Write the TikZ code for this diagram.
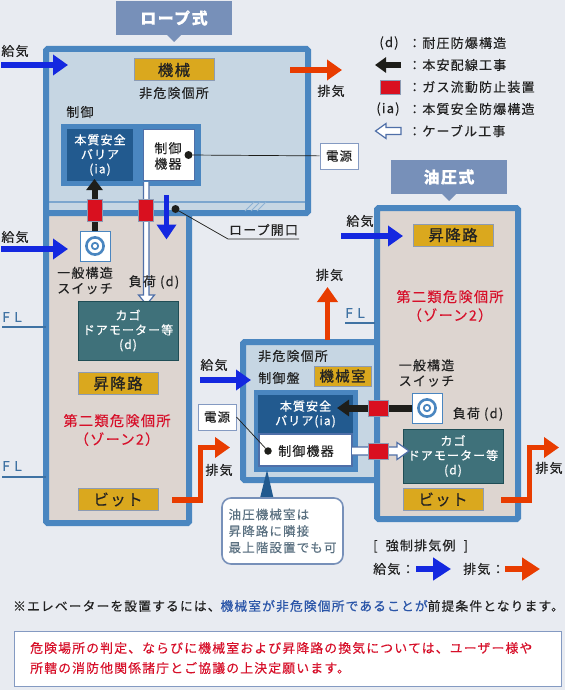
\documentclass[tikz,border=0pt]{standalone}
\usepackage{fontspec}
\setmainfont[LetterSpace=9,FakeBold=0.25]{Noto Sans CJK JP}
\newfontfamily\medfont[LetterSpace=9,FakeBold=0.7]{Noto Sans CJK JP}
\usepackage{xcolor}
\usetikzlibrary{positioning,calc,arrows.meta}

\definecolor{pagebg}{HTML}{E8EBF1}
\definecolor{framecol}{HTML}{4A86C0}
\definecolor{roomcol}{HTML}{C6D6E3}
\definecolor{shaftcol}{HTML}{DDD5D0}
\definecolor{tabcol}{HTML}{7790B9}
\definecolor{tagcol}{HTML}{DAA81E}
\definecolor{tagedge}{HTML}{8C9BB4}
\definecolor{barriercol}{HTML}{225A8F}
\definecolor{cagecol}{HTML}{3F717A}
\definecolor{cageedge}{HTML}{1F4D55}
\definecolor{cablecol}{HTML}{4F6FA8}
\definecolor{sealcol}{HTML}{D9101F}
\definecolor{supplycol}{HTML}{1428E0}
\definecolor{exhaustcol}{HTML}{E83C00}
\definecolor{wirecol}{HTML}{1E1E1A}
\definecolor{txtdark}{HTML}{222222}
\definecolor{txtred}{HTML}{D7102A}
\definecolor{txtblue}{HTML}{2A55A8}
\definecolor{txtnote}{HTML}{5A7080}

\tikzset{
  txt/.style={font=\fontsize{13}{15.5}\selectfont, text=txtdark, inner sep=0pt, align=center},
  whitetxt/.style={font=\medfont\fontsize{12}{14.5}\selectfont, text=white, inner sep=0pt, align=center},
  zonetxt/.style={font=\fontsize{14.2}{18.5}\selectfont, text=txtred, inner sep=0pt, align=center},
  frame/.style={draw=framecol, line width=6pt, rounded corners=1.5pt},
  tab/.style={fill=tabcol, text=white, font=\bfseries\fontsize{16}{18}\selectfont, inner sep=0pt, minimum width=116pt, minimum height=34pt},
  tag/.style={fill=tagcol, draw=tagedge, line width=1pt, font=\medfont\fontsize{15.5}{17}\selectfont, text=txtdark, inner sep=0pt, minimum height=22pt},
  barrier/.style={fill=barriercol},
  cage/.style={fill=cagecol, draw=cageedge, line width=1pt, whitetxt},
  device/.style={fill=white, draw=cablecol, line width=1.6pt, txt},
  powerbox/.style={fill=white, draw=cablecol!70, line width=1pt, txt, font=\medfont\fontsize{12.5}{15}\selectfont, minimum width=38pt, minimum height=26pt},
  switchbox/.style={fill=white, draw=framecol, line width=1pt, minimum size=30pt, inner sep=0pt},
  seal/.style={fill=sealcol, draw=tagedge, line width=1pt, inner sep=0pt},
  dot/.style={circle, fill=wirecol, inner sep=0pt, minimum size=8pt},
  leader/.style={draw=wirecol, line width=0.7pt},
  supply/.style={draw=supplycol, line width=5.5pt, -{Triangle[length=15pt,width=20pt]}},
  exhaust/.style={draw=exhaustcol, line width=5.5pt, -{Triangle[length=15pt,width=20pt]}},
  wiring/.style={draw=wirecol, line width=6pt, -{Triangle[length=11pt,width=16pt]}},
  cable/.style={draw=cablecol, fill=white, line width=1.2pt},
  floorline/.style={draw=framecol!85!black, line width=1.2pt},
  fltxt/.style={font=\fontsize{13.5}{15}\selectfont, text=framecol!85!black, inner sep=0pt},
}

\begin{document}
\begin{tikzpicture}[x=1pt, y=-1pt]
  \useasboundingbox[fill=pagebg] (0,0) rectangle (565,690);

  % Titles
  \node[tab] (ropetitle) at (174,18) {ロープ式};
  \fill[tabcol] (167,35) -- (174,42) -- (181,35) -- cycle;
  \node[tab] (hydrotitle) at (449,177) {油圧式};
  \fill[tabcol] (442,194) -- (449,201) -- (456,194) -- cycle;

  % Rope type: machine room and hoistway
  \fill[roomcol] (46,49) rectangle (308,213);
  \fill[shaftcol] (46,213) rectangle (189,523);
  \draw[framecol!60!roomcol, line width=2pt] (49,202) -- (305,202);
  \draw[frame] (46,213) -- (46,49) -- (308,49) -- (308,213) -- (46,213) -- (46,523) -- (189,523) -- (189,213);
  \draw[framecol!45!roomcol, line width=1pt] (245,211) -- (254,202) (251,211) -- (260,202) (257,211) -- (266,202);

  % Hydraulic type: hoistway and machine room
  \fill[roomcol] (243,342) rectangle (377,480);
  \draw[frame] (377,342) -- (243,342) -- (243,480) -- (377,480);
  \fill[shaftcol] (377,208) rectangle (518,519);
  \draw[frame] (377,208) rectangle (518,519);

  % Rope type: panel
  \node[tag, minimum width=80pt] (machinetag) at (174,70) {機械};
  \node[txt] (nonhazA) at (174,93) {非危険個所};
  \node[txt] (controlA) at (80,112) {制御};
  \fill[framecol] (61,124) rectangle (201,186);
  \node[barrier, whitetxt, minimum width=66pt, minimum height=52pt] (barrierA) at (100,155) {本質安全\\バリア\\(ia)};
  \node[device, minimum width=51pt, minimum height=51pt, text depth=0pt] (deviceA) at (169,155) {};
  \node[txt] (devicetxtA) at (168,156) {制御\\機器};
  \node[dot] (dotA) at (188.5,155) {};
  \node[powerbox] (powerA) at (339,156) {電源};
  \draw[leader] (dotA) -- (powerA);

  % Rope type: hoistway contents
  \node[switchbox] (switchA) at (95,246) {};
  \draw[framecol, line width=2.6pt] (switchA.center) circle (8.6pt);
  \draw[framecol, line width=1.8pt] (switchA.center) circle (3.2pt);
  \draw[wiring] (switchA.north -| 94.5,0) -- (94.5,179);
  \node[seal, minimum width=15pt, minimum height=22pt] (sealA) at (95,210.5) {};
  \draw[cable] (143.5,182) -- (143.5,295) -- (138.5,295) -- (146.5,304.5) -- (154.5,295) -- (149,295) -- (149,182);
  \node[seal, minimum width=15pt, minimum height=22pt] (sealB) at (146,210.5) {};
  \draw[draw=supplycol, line width=5pt, -{Triangle[length=15pt,width=19pt]}] (166.5,195) coordinate (dropA) -- (166.5,239.5) coordinate (dropB);
  \node[dot] (dotB) at (175.5,209) {};
  \coordinate (bend) at (228,239);
  \coordinate (openend) at (299,239);
  \draw[leader] (dotB) -- (bend) -- (openend);
  \node[txt, above=3pt of $(bend)!0.5!(openend)$] (opening) {ロープ開口};

  \node[txt] (switchtxtA) at (85,280.5) {一般構造\\スイッチ};
  \node[txt] (loadA) at (154,282) {負荷 (d)};
  \node[cage, minimum width=100pt, minimum height=59pt] (cageA) at (128,330.5) {カゴ\\ドアモーター等\\(d)};
  \node[tag, minimum width=80pt] (shafttagA) at (118,383.5) {昇降路};
  \node[zonetxt] (zoneA) at (117,430) {第二類危険個所\\（ゾーン2）};
  \node[tag, minimum width=80pt] (pitA) at (118,499.5) {ビット};

  % FL marks
  \node[fltxt] (flA) at (12,317) {F\,\,L};
  \coordinate (flAa) at (2,327);
  \coordinate (flAb) at (46,327);
  \draw[floorline] (flAa) -- (flAb);
  \node[fltxt] (flB) at (12,466) {F\,\,L};
  \coordinate (flBa) at (2,477);
  \coordinate (flBb) at (46,477);
  \draw[floorline] (flBa) -- (flBb);
  \node[fltxt] (flC) at (355,313) {F\,\,L};
  \coordinate (flCa) at (345,323);
  \coordinate (flCb) at (375,323);
  \draw[floorline] (flCa) -- (flCb);

  % Supply air
  \node[txt] (inA) at (15,51) {給気};
  \draw[supply] (1,65) coordinate (inAa) -- (68,65) coordinate (inAb);
  \node[txt] (inB) at (15,237) {給気};
  \draw[supply] (1,249) coordinate (inBa) -- (68,249) coordinate (inBb);
  \node[txt] (inC) at (214,365) {給気};
  \draw[supply] (200,380) coordinate (inCa) -- (251,380) coordinate (inCb);
  \node[txt] (inD) at (360,221) {給気};
  \draw[supply] (341,236) coordinate (inDa) -- (403,236) coordinate (inDb);

  % Exhaust air
  \draw[exhaust] (290,70) coordinate (outAa) -- (342,70) coordinate (outAb);
  \node[txt] (outA) at (331,91) {排気};
  \draw[exhaust] (172,500) coordinate (outBa) -- (200.5,500) -- (200.5,447.5) -- (230,447.5) coordinate (outBb);
  \node[txt] (outB) at (219,470) {排気};
  \draw[exhaust] (327.5,340) coordinate (outCa) -- (327.5,287) coordinate (outCb);
  \node[txt] (outC) at (329.5,275) {排気};
  \draw[exhaust] (501,500) coordinate (outDa) -- (529.5,500) -- (529.5,447.5) -- (559,447.5) coordinate (outDb);
  \node[txt] (outD) at (549,468) {排気};

  % Hydraulic type: machine room contents
  \node[txt] (nonhazB) at (293,356) {非危険個所};
  \node[txt] (controlB) at (279,378) {制御盤};
  \node[tag, minimum width=57pt, minimum height=20pt, font=\medfont\fontsize{14.5}{16}\selectfont] (machinetagB) at (342.5,376) {機械室};
  \fill[framecol] (254,390) rectangle (358,472);
  \fill[barriercol] (267,470) -- (273.5,498) -- (260,498) -- cycle;
  \node[barrier, whitetxt, minimum width=95pt, minimum height=39pt] (barrierB) at (305.5,414) {本質安全\\バリア(ia)};
  \node[device, minimum width=93pt, minimum height=32pt] (deviceB) at (305.5,450) {};
  \node[dot, minimum size=7.5pt] (dotC) at (268,451) {};
  \node[txt] (devicetxtB) at (306,451) {制御機器};
  \node[powerbox] (powerB) at (217,417) {電源};
  \draw[leader] (powerB.east) -- (dotC);

  % Hydraulic type: hoistway contents
  \node[tag, minimum width=80pt] (shafttagB) at (453,235) {昇降路};
  \node[zonetxt] (zoneB) at (450,306) {第二類危険個所\\（ゾーン2）};
  \node[txt] (switchtxtB) at (426.5,373) {一般構造\\スイッチ};
  \node[switchbox] (switchB) at (427,408) {};
  \draw[framecol, line width=2.6pt] (switchB.center) circle (8.6pt);
  \draw[framecol, line width=1.8pt] (switchB.center) circle (3.2pt);
  \node[txt] (loadB) at (478,414) {負荷 (d)};
  \node[cage, minimum width=100pt, minimum height=54pt] (cageB) at (453,456) {カゴ\\ドアモーター等\\(d)};
  \node[tag, minimum width=80pt] (pitB) at (443,499.5) {ビット};
  \draw[wiring, line width=7pt, -{Triangle[length=12pt,width=16pt]}] (switchB.west) -- (337,408);
  \draw[cable] (352,447) -- (397,447) -- (397,442.5) -- (409,451) -- (397,459.5) -- (397,455) -- (352,455);
  \node[seal, minimum width=20pt, minimum height=16pt] (sealC) at (378,408) {};
  \node[seal, minimum width=20pt, minimum height=16pt] (sealD) at (378,451) {};

  % Callout
  \node[draw=tabcol, line width=1.6pt, fill=white, rounded corners=9pt, minimum width=121pt, minimum height=66pt, inner sep=0pt, text=txtnote, font=\fontsize{12.5}{16.5}\selectfont, align=left] (callout) at (282.5,531) {油圧機械室は\\昇降路に隣接\\最上階設置でも可};

  % Legend
  \node[txt] (legdk) at (389,43) {(d)};
  \node[txt, anchor=west] (legdt) at (408,43) {：耐圧防爆構造};
  \draw[wiring, -{Triangle[length=11pt,width=15pt]}] (401,65) coordinate (legwa) -- (375,65) coordinate (legwb);
  \node[txt, anchor=west] (legwt) at (408,65) {：本安配線工事};
  \node[seal, minimum width=20pt, minimum height=13.5pt] (legseal) at (390,87.5) {};
  \node[txt, anchor=west] (legst) at (408,87) {：ガス流動防止装置};
  \node[txt] (legik) at (388,109) {(ia)};
  \node[txt, anchor=west] (legit) at (408,109) {：本質安全防爆構造};
  \draw[cable] (401,127.5) -- (386,127.5) -- (386,123.5) -- (375.5,131) -- (386,138.5) -- (386,134.5) -- (401,134.5) -- cycle;
  \node[txt, anchor=west] (legct) at (408,131) {：ケーブル工事};

  % Forced exhaust example
  \node[txt, anchor=west] (forced) at (373,546) {[~~強制排気例~~]};
  \node[txt, anchor=west] (forcedin) at (373,569) {給気：};
  \draw[supply, line width=6pt, -{Triangle[length=18pt,width=22pt]}] (416,569) coordinate (fina) -- (451,569) coordinate (finb);
  \node[txt, anchor=west] (forcedout) at (463,569) {排気：};
  \draw[exhaust, line width=6pt, -{Triangle[length=18pt,width=22pt]}] (505,569) coordinate (fouta) -- (540,569) coordinate (foutb);

  % Notes
  \node[txt, anchor=west, font=\fontsize{12.75}{15}\selectfont] (premise) at (13,606) {※エレベーターを設置するには、{\medfont\color{txtblue}機械室が非危険個所であることが}前提条件となります。};
  \node[draw=cablecol!70, line width=1pt, fill=white, minimum width=547pt, minimum height=55pt, inner sep=0pt] (notebox) at (287.5,658.5) {};
  \node[txt, text=txtred, anchor=west, font=\fontsize{12.85}{20}\selectfont, align=left] (notetxt) at (30,658) {危険場所の判定、ならびに機械室および昇降路の換気については、ユーザー様や\\所轄の消防他関係諸庁とご協議の上決定願います。};
\end{tikzpicture}
\end{document}
